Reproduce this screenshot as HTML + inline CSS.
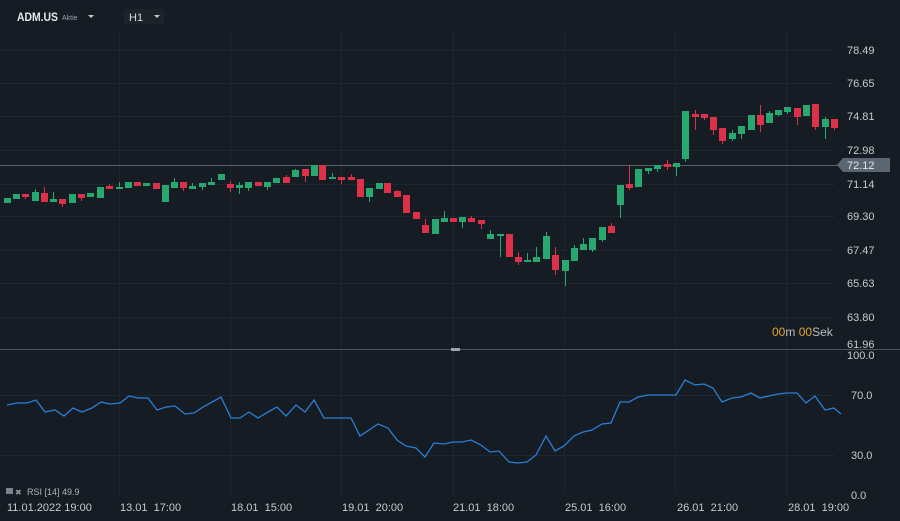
<!DOCTYPE html>
<html><head><meta charset="utf-8"><style>
html,body{margin:0;padding:0;background:#151c23;}
svg{display:block;font-family:"Liberation Sans",sans-serif;}
</style></head><body>
<svg width="900" height="521" viewBox="0 0 900 521" xmlns="http://www.w3.org/2000/svg">
<rect width="900" height="521" fill="#151c23"/>
<g stroke="#1e272f" stroke-width="1">
<line x1="0" y1="50.5" x2="835" y2="50.5"/><line x1="0" y1="83.5" x2="835" y2="83.5"/><line x1="0" y1="116.5" x2="835" y2="116.5"/><line x1="0" y1="150.5" x2="835" y2="150.5"/><line x1="0" y1="184.5" x2="835" y2="184.5"/><line x1="0" y1="216.5" x2="835" y2="216.5"/><line x1="0" y1="250.5" x2="835" y2="250.5"/><line x1="0" y1="283.5" x2="835" y2="283.5"/><line x1="0" y1="317.5" x2="835" y2="317.5"/>
<line x1="0" y1="395.5" x2="835" y2="395.5"/><line x1="0" y1="455.5" x2="835" y2="455.5"/>
<line x1="119.5" y1="30" x2="119.5" y2="495"/><line x1="230.5" y1="30" x2="230.5" y2="495"/><line x1="341.5" y1="30" x2="341.5" y2="495"/><line x1="453.5" y1="30" x2="453.5" y2="495"/><line x1="564.5" y1="30" x2="564.5" y2="495"/><line x1="675.5" y1="30" x2="675.5" y2="495"/><line x1="786.5" y1="30" x2="786.5" y2="495"/>
</g>
<line x1="0" y1="165.5" x2="840" y2="165.5" stroke="#56626c" stroke-width="1"/>
<line x1="0" y1="349.5" x2="900" y2="349.5" stroke="#4a545d" stroke-width="1"/>
<rect x="451" y="348" width="9" height="3" fill="#9aa3ab"/>
<g id="c"></g>
<polyline fill="none" stroke="#2a7fd4" stroke-width="1.3" points="7,405 17,403 27,403 36,400 45,412 55,410 64,416 73,408 82,412 92,408 101,402 110,404 120,403 129,396 138,398 148,398 157,410 166,407 175,406 185,414 194,413 203,407 212,402 221,397 231,418 240,418 249,412 258,418 268,412 277,407 286,416 296,405 305,412 314,400 324,418 333,418 342,418 351,418 360,436 369,430 378,424 388,428 397,440 406,446 416,448 425,457 434,443 444,444 453,442 462,442 471,440 481,445 490,452 499,451 509,462 518,463 527,462 536,455 546,436 555,451 564,446 574,436 583,432 592,430 602,424 611,423 620,402 629,402 638,397 648,395 657,395 667,395 676,395 685,380 695,385 704,384 713,388 722,402 732,398 741,397 751,393 760,398 769,396 778,394 787,393 797,393 806,403 815,396 825,410 834,408 841,414"/>
<g fill="#c5cbd1" font-size="11">
<text x="847" y="54">78.49</text><text x="847" y="87">76.65</text><text x="847" y="120">74.81</text><text x="847" y="154">72.98</text><text x="847" y="188">71.14</text><text x="847" y="220">69.30</text><text x="847" y="254">67.47</text><text x="847" y="287">65.63</text><text x="847" y="321">63.80</text><text x="847" y="348">61.96</text>
<text x="847" y="359">100.0</text><text x="851" y="399">70.0</text><text x="851" y="459">30.0</text><text x="851" y="499">0.0</text>
<text x="7" y="511">11.01.2022  19:00</text><text x="120" y="511" xml:space="preserve">13.01  17:00</text><text x="231" y="511" xml:space="preserve">18.01  15:00</text><text x="342" y="511" xml:space="preserve">19.01  20:00</text><text x="453" y="511" xml:space="preserve">21.01  18:00</text><text x="565" y="511" xml:space="preserve">25.01  16:00</text><text x="677" y="511" xml:space="preserve">26.01  21:00</text><text x="788" y="511" xml:space="preserve">28.01  19:00</text>
</g>
<path d="M837,165 L843,158 L890,158 L890,172 L843,172 Z" fill="#5a6773"/>
<text x="847" y="169" fill="#e4e8eb" font-size="11">72.12</text>
<text x="772" y="336" font-size="12"><tspan fill="#e8a23a">00</tspan><tspan fill="#b8bfc5">m </tspan><tspan fill="#e8a23a">00</tspan><tspan fill="#b8bfc5">Sek</tspan></text>
<text x="17" y="21" fill="#e6e9ec" font-size="12" font-weight="bold" textLength="41" lengthAdjust="spacingAndGlyphs">ADM.US</text>
<text x="62" y="20" fill="#9aa3ab" font-size="7">Aktie</text>
<path d="M88,15 L94,15 L91,18 Z" fill="#c5cbd1"/>
<rect x="124" y="9" width="40" height="15" fill="#1b232b" rx="2"/>
<text x="129" y="21" fill="#d5dade" font-size="11">H1</text>
<path d="M154,15 L160,15 L157,18 Z" fill="#c5cbd1"/>
<rect x="6" y="488" width="7" height="6" fill="#7b848c"/>
<text x="15" y="495" fill="#8e979f" font-size="8">✖</text>
<text x="27" y="495" fill="#aeb5bb" font-size="9">RSI  [14]  49.9</text>
</svg>
<script>
var d=[
[7,198,203,198,203,1],[16,194,199,194,199,1],[25,194,197,194,199,0],[35,192,201,189,201,1],[44,193,202,187,202,0],[53,199,202,192,202,1],[62,199,204,199,207,0],[72,194,203,194,203,1],[81,194,198,194,201,0],[90,193,197,193,197,1],[100,187,198,187,198,1],[109,186,189,184,189,0],[119,187,189,182,189,1],[128,182,188,182,188,1],[137,182,186,182,186,0],[146,183,186,183,186,1],[156,183,189,183,189,0],[165,185,202,185,202,1],[174,182,188,178,188,1],[183,182,188,182,191,0],[192,186,189,183,189,1],[202,183,187,183,190,1],[211,182,185,178,185,1],[221,174,180,174,180,1],[230,184,188,181,192,0],[239,185,188,182,194,1],[248,182,188,182,191,1],[258,182,186,182,186,0],[267,182,187,182,190,1],[276,178,183,178,183,1],[286,177,183,175,183,0],[295,170,177,169,177,1],[305,169,176,169,182,0],[314,165,176,165,176,1],[322,165,180,165,180,0],[332,177,179,173,179,1],[341,177,180,177,184,0],[351,177,180,174,180,0],[360,179,197,179,197,0],[369,188,197,188,202,1],[379,183,189,183,189,1],[387,183,193,183,193,0],[397,191,197,190,197,0],[406,195,213,195,213,0],[416,212,219,212,219,0],[425,225,233,219,233,0],[435,219,234,219,234,1],[444,218,222,211,222,1],[453,218,222,218,222,0],[462,217,222,217,228,1],[471,218,222,216,222,0],[481,220,224,220,229,0],[490,234,239,230,239,1],[500,234,236,234,257,1],[509,234,257,234,257,0],[518,257,262,252,265,0],[527,260,262,253,262,1],[536,257,262,247,262,1],[546,236,259,232,259,1],[555,255,270,247,275,0],[565,260,271,260,286,1],[574,248,261,245,261,1],[583,244,250,238,250,1],[592,238,250,238,252,1],[602,227,240,227,242,1],[611,226,233,223,233,0],[620,185,205,185,218,1],[629,184,188,165,190,0],[638,169,187,169,187,1],[648,168,171,168,174,1],[657,165,169,165,172,1],[667,164,167,160,170,0],[676,163,167,163,176,1],[685,111,159,111,162,1],[695,114,117,110,130,0],[704,114,118,114,120,0],[713,117,130,117,135,0],[722,128,141,128,144,0],[732,133,139,130,141,1],[741,126,134,126,139,1],[751,115,130,115,130,1],[760,115,125,105,132,0],[769,113,123,111,123,1],[778,110,115,110,116,1],[787,107,112,107,114,1],[797,108,117,108,125,0],[806,105,116,105,116,1],[815,104,127,104,130,0],[825,119,127,117,139,1],[834,119,128,119,130,0]];
var g=document.getElementById('c'),s='';
d.forEach(function(c){var col=c[5]?'#27a86e':'#dc3148';
s+='<line x1="'+(c[0]+.5)+'" y1="'+c[3]+'" x2="'+(c[0]+.5)+'" y2="'+c[4]+'" stroke="'+col+'" stroke-width="1"/>';
s+='<rect x="'+(c[0]-3)+'" y="'+c[1]+'" width="7" height="'+Math.max(2,c[2]-c[1])+'" fill="'+col+'"/>';});
g.innerHTML=s;
</script>
</body></html>
